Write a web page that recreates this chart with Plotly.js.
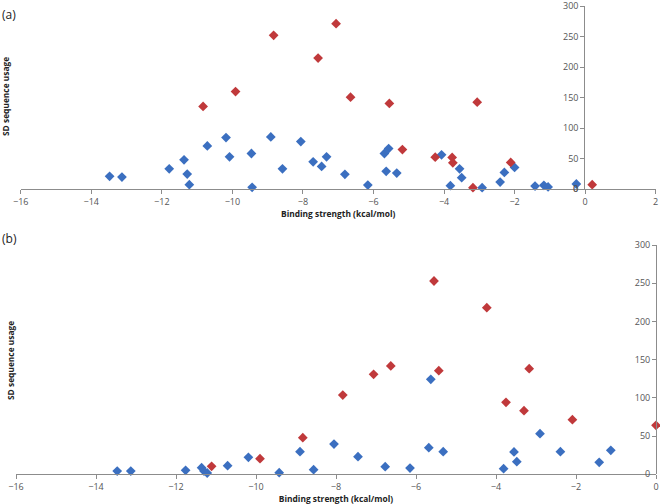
<!DOCTYPE html>
<html><head><meta charset="utf-8">
<script src="https://cdn.plot.ly/plotly-3.0.1.min.js"></script>
<style>body{margin:0;padding:0;background:#fff}#chart{width:660px;height:504px}</style>
</head><body><div id="chart"></div>
<script>
// Panel (a)
const aBlueX = [-13.48,-13.13,-11.79,-11.37,-11.28,-11.22,-10.71,-10.18,-10.08,-9.46,-9.44,-8.91,-8.58,-8.06,-7.71,-7.47,-7.33,-6.81,-6.16,-5.69,-5.57,-5.64,-5.34,-4.07,-3.82,-3.56,-3.50,-2.92,-2.41,-2.29,-2.00,-1.42,-1.17,-1.05,-0.25];
const aBlueY = [20.7,19.6,33.1,47.8,24.5,7.1,70.6,84.3,52.7,58.2,2.8,85.3,33.1,77.8,44.5,37.0,52.7,24.0,6.5,58.2,66.3,28.9,26.1,56.0,5.4,33.1,18.5,2.1,11.4,27.2,35.3,4.9,6.0,3.3,8.2];
const aRedX = [-10.83,-9.91,-8.83,-7.57,-7.06,-6.65,-5.55,-5.18,-4.25,-3.77,-3.75,-3.18,-3.06,-2.11,0.2];
const aRedY = [135.3,159.8,252.0,214.7,271.0,150.5,140.2,64.7,52.2,51.7,42.9,2.1,142.3,43.5,7.0];
// Panel (b)
const bBlueX = [-13.47,-13.13,-11.76,-11.36,-11.30,-11.22,-10.71,-10.19,-9.42,-8.90,-8.56,-8.05,-7.45,-6.77,-6.15,-5.68,-5.63,-5.32,-3.81,-3.55,-3.48,-2.90,-2.39,-1.42,-1.13];
const bBlueY = [4.3,4.3,5.2,8.6,4.3,1.7,11.3,22.2,2.1,29.6,6.0,39.6,23.1,10.0,8.2,34.8,124.2,29.6,7.3,29.2,16.5,53.1,29.6,15.7,31.4];
const bRedX = [-11.11,-9.90,-8.83,-7.83,-7.06,-6.63,-5.55,-5.43,-4.23,-3.75,-3.30,-3.17,-2.09,0.0];
const bRedY = [10.5,20.4,47.9,103.7,130.8,141.7,252.9,135.5,218.0,94.2,83.2,138.2,71.4,64.1];

const xTitle = 'Binding strength (kcal/mol)';
const yTitle = 'SD sequence usage';
const panelLabels = ['(a)', '(b)'];
const zeroLabel = '0';

const BLUE = '#3b6fc0', RED = '#c0393b';
const FONT = 'Open Sans, Noto Sans, sans-serif';
const mk = (c) => ({symbol:'diamond', size:7.5, color:c, line:{width:0}});

const W = 660, H = 504;
const X0a = 20.7, X1a = 655.7, XZa = 585.3;   // pixel positions of -16, 2 and 0 in panel (a)

const traces = [
  {x:aBlueX, y:aBlueY, type:'scatter', mode:'markers', marker:mk(BLUE), xaxis:'x', yaxis:'y', cliponaxis:false},
  {x:aRedX, y:aRedY, type:'scatter', mode:'markers', marker:mk(RED), xaxis:'x', yaxis:'y', cliponaxis:false},
  {x:bBlueX, y:bBlueY, type:'scatter', mode:'markers', marker:mk(BLUE), xaxis:'x2', yaxis:'y2', cliponaxis:false},
  {x:bRedX, y:bRedY, type:'scatter', mode:'markers', marker:mk(RED), xaxis:'x2', yaxis:'y2', cliponaxis:false},
  {x:[], y:[], type:'scatter', mode:'markers', xaxis:'x3', yaxis:'y', hoverinfo:'skip'}
];

const tickF = {family:FONT, size:9, color:'#555'};
const titleF = {family:FONT, size:8.4, color:'#222'};
const axCommon = {showgrid:false, zeroline:false, showline:true, linecolor:'#8c8c8c', linewidth:1,
  ticks:'outside', ticklen:4, tickcolor:'#8c8c8c', tickfont:tickF, fixedrange:true, ticklabeloverflow:'allow'};

const layout = {
  width:W, height:H, margin:{l:0,r:0,t:0,b:0}, showlegend:false,
  paper_bgcolor:'#fff', plot_bgcolor:'rgba(0,0,0,0)',
  xaxis: Object.assign({}, axCommon, {domain:[X0a/W, X1a/W], range:[-16,2], dtick:2, tick0:0, anchor:'y',
    title:{text:'<b>'+xTitle+'</b>', font:titleF, standoff:4}}),
  xaxis3: {domain:[XZa/W, X1a/W], range:[0,2], visible:false, anchor:'y', fixedrange:true, showgrid:false, zeroline:false},
  yaxis: Object.assign({}, axCommon, {domain:[(H-189)/H, (H-6)/H], range:[0,300], dtick:50, anchor:'x3', side:'left'}),
  xaxis2: Object.assign({}, axCommon, {domain:[16/W, 656/W], range:[-16,0], dtick:2, tick0:0, anchor:'y2',
    title:{text:'<b>'+xTitle+'</b>', font:titleF, standoff:6}}),
  yaxis2: Object.assign({}, axCommon, {domain:[(H-474.3)/H, (H-245)/H], range:[0,300], dtick:50, anchor:'free',
    position:656/W, side:'left'}),
  annotations: [
    {text:panelLabels[0], xref:'paper', yref:'paper', x:0, y:1-4/H, xanchor:'left', yanchor:'top', showarrow:false, font:{family:FONT, size:12, color:'#222'}},
    {text:panelLabels[1], xref:'paper', yref:'paper', x:0, y:1-228/H, xanchor:'left', yanchor:'top', showarrow:false, font:{family:FONT, size:12, color:'#222'}},
    {text:'<b>'+yTitle+'</b>', xref:'paper', yref:'paper', x:6/W, y:1-97/H, xanchor:'center', yanchor:'middle', textangle:-90, showarrow:false, font:titleF},
    {text:'<b>'+yTitle+'</b>', xref:'paper', yref:'paper', x:10/W, y:1-361/H, xanchor:'center', yanchor:'middle', textangle:-90, showarrow:false, font:titleF},
    {text:zeroLabel, xref:'x', yref:'y', x:0, y:0, xanchor:'right', yanchor:'middle', xshift:-6, showarrow:false, font:tickF, borderpad:0}
  ]
};

Plotly.newPlot('chart', traces, layout, {displayModeBar:false, staticPlot:true});
</script></body></html>
